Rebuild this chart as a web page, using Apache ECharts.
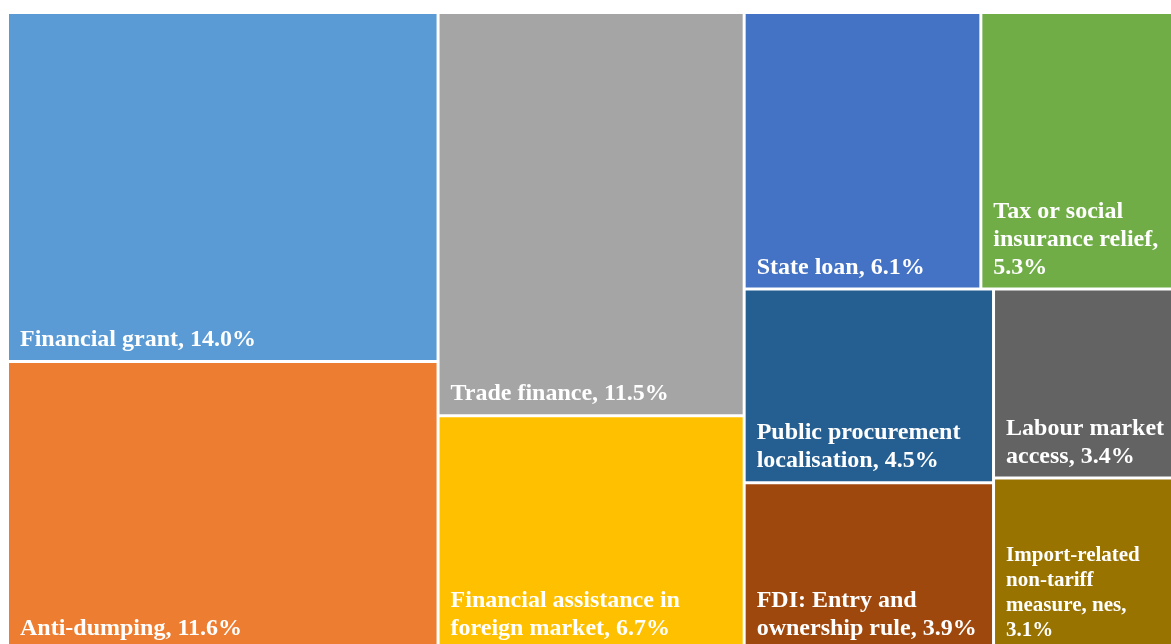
<!DOCTYPE html>
<html>
<head>
<meta charset="utf-8">
<script src="https://cdn.jsdelivr.net/npm/echarts@6/dist/echarts.min.js"></script>
<style>
  html, body { margin: 0; padding: 0; background: #fff; }
  #chart_treemap { width: 1171px; height: 644px; }
</style>
</head>
<body>
<div id="chart_treemap"></div>
<script>
// share of measures, %
var measureNames = [
    'Financial grant',
    'Anti-dumping',
    'Trade finance',
    'Financial assistance in foreign market',
    'State loan',
    'Tax or social insurance relief',
    'Public procurement localisation',
    'FDI: Entry and ownership rule',
    'Labour market access',
    'Import-related non-tariff measure, nes'
];
var measureShares = [14.0, 11.6, 11.5, 6.7, 6.1, 5.3, 4.5, 3.9, 3.4, 3.1];
var measureColors = ['#5b9bd5', '#ed7d31', '#a5a5a5', '#ffc000', '#4472c4',
                     '#70ad47', '#255e91', '#9e480e', '#636363', '#997300'];

var treeData = measureNames.map(function (name, i) {
    var item = {
        name: name,
        value: measureShares[i],
        itemStyle: { color: measureColors[i] }
    };
    // the smallest cell uses a smaller font
    if (i === measureNames.length - 1) {
        item.label = { fontSize: 21, lineHeight: 25 };
    }
    return item;
});

var chart_treemap = echarts.init(document.getElementById('chart_treemap'));
chart_treemap.setOption({
    animation: false,
    series: [{
        type: 'treemap',
        left: 9,
        top: 14,
        width: 1176,
        height: 635,
        roam: false,
        nodeClick: false,
        breadcrumb: { show: false },
        squareRatio: 1,
        sort: 'desc',
        levels: [{
            itemStyle: { borderWidth: 0, gapWidth: 3, borderColor: '#fff' }
        }],
        itemStyle: { borderWidth: 0 },
        label: {
            show: true,
            position: 'insideBottomLeft',
            distance: 0,
            padding: [0, 12, 6, 11],
            color: '#fff',
            fontFamily: '"Liberation Serif", "Times New Roman", serif',
            fontWeight: 'bold',
            fontSize: 24,
            lineHeight: 28,
            overflow: 'break',
            formatter: function (p) {
                return p.name + ', ' + p.value.toFixed(1) + '%';
            }
        },
        emphasis: { disabled: true },
        data: treeData
    }]
});
</script>
</body>
</html>
